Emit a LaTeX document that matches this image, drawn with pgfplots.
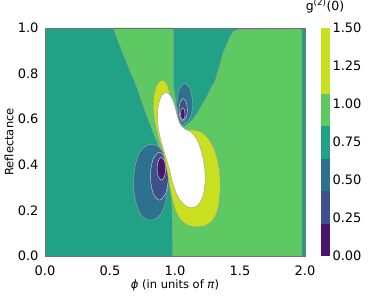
\documentclass[border=0pt]{standalone}
\usepackage{pgfplots}
\pgfplotsset{compat=1.18}
\usepackage{fontspec}
\setmainfont{DejaVu Sans}
\definecolor{cA}{RGB}{72,23,105}
\definecolor{cB}{RGB}{59,82,139}
\definecolor{cC}{RGB}{44,114,142}
\definecolor{cD}{RGB}{33,162,135}
\definecolor{cE}{RGB}{94,201,98}
\definecolor{cF}{RGB}{200,224,32}
\begin{document}
\begin{tikzpicture}
\useasboundingbox (-45pt,-40pt) rectangle (329pt,256pt);
\begin{axis}[
  scale only axis, width=260pt, height=228pt,
  xmin=0, xmax=2, ymin=0, ymax=1,
  xtick={0,0.5,1,1.5,2}, xticklabels={0.0,0.5,1.0,1.5,2.0},
  ytick={0,0.2,0.4,0.6,0.8,1}, yticklabels={0.0,0.2,0.4,0.6,0.8,1.0},
  major tick length=0pt,
  tick label style={font=\fontsize{13}{15}\selectfont},
  xticklabel style={yshift=-6pt},
  yticklabel style={xshift=-3pt},
  xlabel={\textit{ϕ} (in units of \textit{π})},
  ylabel={Reflectance},
  every axis x label/.style={at={(axis description cs:0.5,0)}, anchor=center, yshift=-29pt, font=\fontsize{11.5}{13}\selectfont},
  every axis y label/.style={at={(axis description cs:0,0.5)}, xshift=-36pt, rotate=90, anchor=center, font=\fontsize{11.5}{13}\selectfont},
  axis line style={draw=black!55, line width=0.8pt},
  axis on top,
  colormap={g2}{rgb255=(72,23,105) rgb255=(59,82,139) rgb255=(44,114,142) rgb255=(33,162,135) rgb255=(94,201,98) rgb255=(200,224,32) rgb255=(200,224,32)},
  colormap access=piecewise constant,
  point meta min=0, point meta max=1.5,
  colorbar,
  colorbar style={
    at={(parent axis.north east)}, anchor=north west, xshift=7.5pt,
    width=8pt,
    ytick={0,0.25,0.5,0.75,1,1.25,1.5},
    yticklabels={0.00,0.25,0.50,0.75,1.00,1.25,1.50},
    major tick length=0pt,
    axis line style={draw=none},
    yticklabel style={font=\fontsize{13}{15}\selectfont},
    title={g\textsuperscript{(2)}(0)},
    title style={at={(0.5,1)}, anchor=center, yshift=16pt, xshift=0pt, font=\fontsize{12.5}{14}\selectfont},
  },
]
% background band 0.75-1.00
\addplot[fill=cD, draw=none] coordinates {(0,0) (2,0) (2,1) (0,1)} -- cycle;
% band 1.00-1.25
\addplot[fill=cE, draw=black!40, line width=0.4pt] coordinates {
 (0.525,1.0) (0.987,1.0) (0.987,0.78) (0.99,0.74) (1.0,0.70) (1.01,0.66) (1.02,0.62) (1.04,0.58) (1.06,0.565)
 (1.085,0.572) (1.11,0.583) (1.14,0.60) (1.17,0.625) (1.205,0.66) (1.245,0.70) (1.28,0.74) (1.31,0.77)
 (1.34,0.83) (1.37,0.89) (1.40,0.93) (1.423,0.962) (1.45,0.985) (1.49,0.994)
 (1.96,0.995) (1.97,0.992) (1.975,0.985) (1.975,0.0)
 (0.982,0.0) (0.98,0.1) (0.978,0.2) (0.97,0.26) (0.955,0.31) (0.945,0.36) (0.93,0.40) (0.9,0.445)
 (0.87,0.487) (0.84,0.53) (0.81,0.575) (0.78,0.62) (0.744,0.677) (0.72,0.72) (0.69,0.765)
 (0.655,0.81) (0.615,0.867) (0.57,0.93)
} -- cycle;
% left ellipses
\addplot[smooth cycle, fill=cC, draw=black!35, line width=0.4pt] coordinates {
 (0.68,0.31) (0.695,0.40) (0.74,0.465) (0.81,0.49) (0.87,0.48) (0.918,0.445) (0.942,0.37)
 (0.94,0.28) (0.91,0.205) (0.86,0.165) (0.80,0.158) (0.74,0.178) (0.70,0.235)
};
\addplot[smooth cycle, fill=cB, draw=white!70!gray, line width=0.4pt] coordinates {
 (0.95,0.35) (0.929,0.424) (0.88,0.455) (0.831,0.424) (0.81,0.35) (0.831,0.276) (0.88,0.245) (0.929,0.276)
};
\addplot[smooth cycle, fill=cA, draw=white!75!gray, line width=0.4pt] coordinates {
 (0.928,0.383) (0.918,0.418) (0.895,0.433) (0.872,0.418) (0.862,0.383) (0.872,0.348) (0.895,0.333) (0.918,0.348)
};
% small ellipses
\addplot[smooth cycle, fill=cC, draw=black!35, line width=0.4pt] coordinates {
 (1.135,0.67) (1.118,0.73) (1.075,0.757) (1.032,0.73) (1.015,0.67) (1.025,0.61) (1.05,0.578) (1.095,0.59) (1.125,0.62)
};
\addplot[smooth cycle, fill=cB, draw=white!70!gray, line width=0.4pt] coordinates {
 (1.095,0.64) (1.086,0.675) (1.063,0.69) (1.04,0.675) (1.031,0.64) (1.04,0.605) (1.058,0.59) (1.085,0.605)
};
\addplot[smooth cycle, fill=cA, draw=white!75!gray, line width=0.4pt] coordinates {
 (1.077,0.623) (1.072,0.642) (1.06,0.65) (1.048,0.642) (1.043,0.623) (1.048,0.604) (1.06,0.596) (1.072,0.604)
};
% band 1.25-1.50
\addplot[smooth cycle, fill=cF, draw=black!40, line width=0.4pt] coordinates {
 (0.905,0.772) (0.94,0.752) (0.962,0.705) (0.985,0.645) (1.01,0.598) (1.04,0.566) (1.08,0.553)
 (1.13,0.553) (1.19,0.546) (1.25,0.52) (1.30,0.47) (1.335,0.40) (1.348,0.31) (1.335,0.22)
 (1.30,0.165) (1.24,0.135) (1.17,0.128) (1.10,0.135) (1.04,0.162) (0.995,0.215) (0.965,0.29)
 (0.94,0.37) (0.91,0.45) (0.872,0.52) (0.848,0.58) (0.833,0.645) (0.84,0.71) (0.865,0.755)
};
% above 1.50
\addplot[smooth cycle, fill=white, draw=black!40, line width=0.4pt] coordinates {
 (0.928,0.716) (0.958,0.708) (0.982,0.685) (1.0,0.655) (1.018,0.612) (1.04,0.578) (1.075,0.557)
 (1.12,0.545) (1.165,0.515) (1.20,0.465) (1.225,0.40) (1.232,0.33) (1.215,0.265) (1.18,0.225)
 (1.135,0.212) (1.09,0.218) (1.045,0.24) (1.01,0.275) (0.978,0.33) (0.95,0.395) (0.918,0.455)
 (0.89,0.51) (0.87,0.57) (0.866,0.63) (0.878,0.675) (0.9,0.705)
};
\end{axis}
\end{tikzpicture}
\end{document}
